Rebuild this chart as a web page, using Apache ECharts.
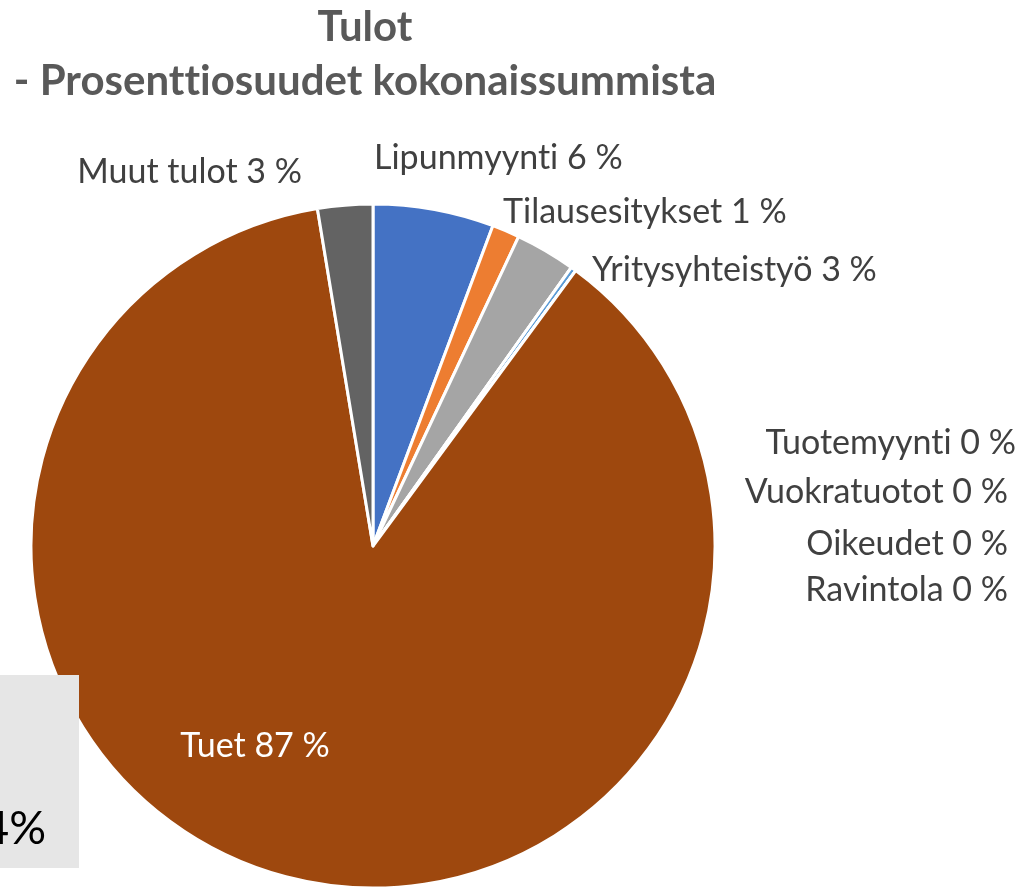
<!DOCTYPE html>
<html>
<head>
<meta charset="utf-8">
<style>html,body{margin:0;padding:0;background:#fff;}#c{width:1023px;height:888px;}</style>
<script src="https://cdn.jsdelivr.net/npm/echarts@6/dist/echarts.min.js"></script>
</head>
<body>
<div id="c"></div>
<script>
// avoid Lato "ti" ligatures in canvas text
(function(){
  var P = CanvasRenderingContext2D.prototype, f = P.fillText, m = P.measureText;
  P.fillText = function(){ try{ this.textRendering='optimizeSpeed'; }catch(e){} return f.apply(this, arguments); };
  P.measureText = function(){ try{ this.textRendering='optimizeSpeed'; }catch(e){} return m.apply(this, arguments); };
})();
var categories = ['Lipunmyynti','Tilausesitykset','Yritysyhteistyö','Tuotemyynti','Vuokratuotot','Oikeudet','Ravintola','Tuet','Muut tulot'];
var values = [5.7, 1.3, 2.85, 0, 0.25, 0, 0, 87.3, 2.6];
var colors = ['#4472C4','#ED7D31','#A5A5A5','#FFC000','#5B9BD5','#70AD47','#264478','#9E480E','#636363'];
var titleLines = ['Tulot','- Prosenttiosuudet kokonaissummista'];
// label anchor positions [x, y, align]
var labelPos = [
  [374,158,'left'],[503,212,'left'],[592,270,'left'],
  [1016,443,'right'],[1008,492,'right'],[1008,544,'right'],[1008,590,'right'],
  [255,746,'center'],[302,172,'right']
];
var FONT = 'Lato, "Open Sans", sans-serif';
var chart = echarts.init(document.getElementById('c'), null, {renderer:'canvas'});
var data = categories.map(function(n,i){
  return {name:n, value:values[i], itemStyle:{color:colors[i]},
    label: i===7 ? {color:'#ffffff'} : {}};
});
chart.setOption({
  animation:false,
  color: colors,
  title:{
    text: titleLines.join('\n'),
    left: 360, textAlign:'center', top: -5,
    textStyle:{fontFamily:FONT, fontWeight:'bold', fontSize:42, color:'#595959', lineHeight:54, align:'center'}
  },
  graphic:[
    {type:'rect', z:100, shape:{x:0,y:675,width:79,height:193}, style:{fill:'#E6E6E6'}},
    {type:'text', z:101, style:{text:'4%', x:46, y:829, align:'right', verticalAlign:'middle', font:'46px '+FONT, fill:'#000'}}
  ],
  series:[{
    type:'pie',
    center:[373,546], radius:[0,342],
    startAngle:90, clockwise:true,
    avoidLabelOverlap:false,
    stillShowZeroSum:true,
    itemStyle:{borderColor:'#fff', borderWidth:3},
    label:{show:true, fontFamily:FONT, fontSize:34, color:'#404040',
      formatter:function(p){return p.name+' '+Math.round(p.percent)+' %';}},
    labelLine:{show:false},
    labelLayout:function(p){var q=labelPos[p.dataIndex];return {x:q[0], y:q[1], align:q[2], verticalAlign:'middle', hideOverlap:false};},
    emphasis:{disabled:true},
    data:data
  }]
});
</script>
</body>
</html>
